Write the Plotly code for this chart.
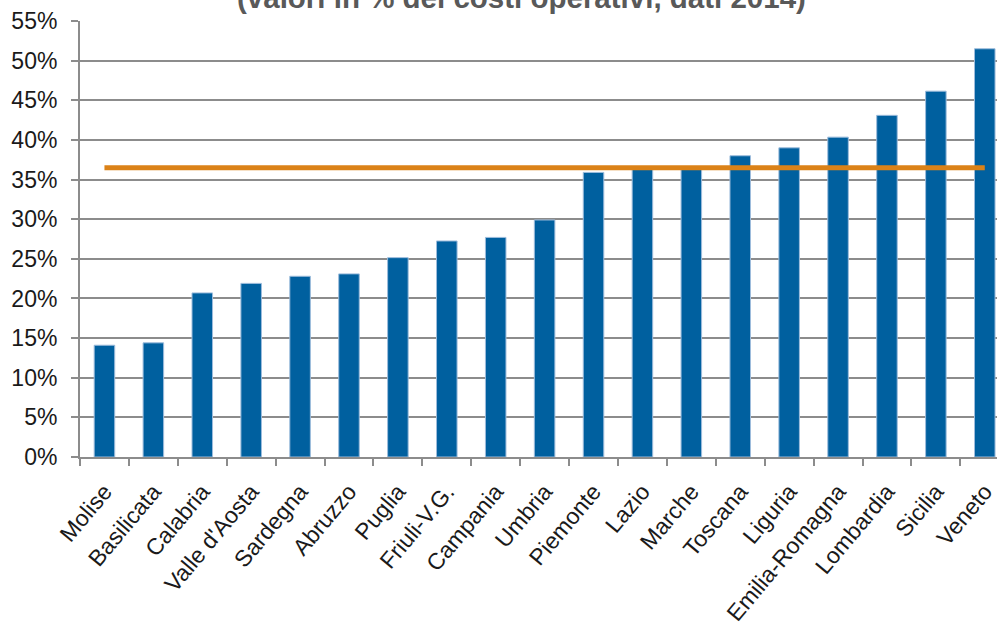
import plotly.graph_objects as go

regions = ["Molise", "Basilicata", "Calabria", "Valle d'Aosta", "Sardegna", "Abruzzo",
           "Puglia", "Friuli-V.G.", "Campania", "Umbria", "Piemonte", "Lazio", "Marche",
           "Toscana", "Liguria", "Emilia-Romagna", "Lombardia", "Sicilia", "Veneto"]
values = [14.1, 14.4, 20.7, 21.9, 22.8, 23.1, 25.15, 27.25, 27.7, 29.9, 35.9, 36.3, 36.3,
          38.0, 39.0, 40.35, 43.1, 46.15, 51.5]
average = [36.5] * len(regions)
title_text = "(valori in % dei costi operativi, dati 2014)"

grid = "#8c8c8c"
fig = go.Figure()
fig.add_trace(go.Bar(x=regions, y=values, width=0.42,
                     marker=dict(color="#00609F", line=dict(color="#9DBCDC", width=1))))
fig.add_trace(go.Scatter(x=regions, y=average, mode="lines",
                         line=dict(color="#DB8218", width=5)))

fig.update_layout(
    width=997, height=625,
    margin=dict(l=80, r=0, t=21, b=168),
    paper_bgcolor="white", plot_bgcolor="white",
    showlegend=False,
    font=dict(family="Liberation Sans, Arial, sans-serif", color="#1a1a1a"),
    annotations=[dict(text="<b>" + title_text + "</b>", xref="paper", yref="paper",
                      x=0.481, y=1.012, xanchor="center", yanchor="bottom", showarrow=False,
                      font=dict(size=29.5, color="#595959"))],
)
fig.update_xaxes(range=[-0.5, 18.25], showgrid=False, showline=True, linecolor=grid, linewidth=2,
                 ticks="outside", tickson="boundaries", ticklen=7, tickcolor=grid, tickwidth=2,
                 tickangle=-50, ticklabelstandoff=10, tickfont=dict(size=23, color="#1a1a1a"))
fig.update_yaxes(range=[0, 55], dtick=5, ticksuffix="%", showgrid=True, gridcolor=grid, gridwidth=2,
                 showline=True, linecolor=grid, linewidth=2, zeroline=False,
                 ticks="outside", ticklen=7, tickcolor=grid, tickwidth=2,
                 ticklabelstandoff=9, tickfont=dict(size=23, color="#1a1a1a"))
fig.write_html("out.html")
